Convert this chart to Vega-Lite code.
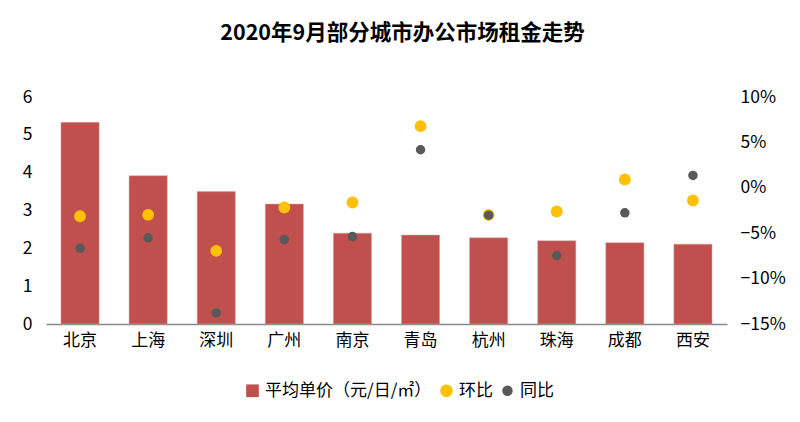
{
  "$schema": "https://vega.github.io/schema/vega-lite/v6.json",
  "autosize": "none",
  "width": 681,
  "height": 227,
  "padding": {"left": 46, "top": 97, "right": 73, "bottom": 98},
  "background": "white",
  "config": {
    "font": "Noto Sans CJK SC",
    "view": {"stroke": null},
    "legend": {
      "title": null,
      "orient": "none",
      "legendX": 198,
      "legendY": 285,
      "direction": "horizontal",
      "labelFontSize": 17,
      "labelColor": "#000000",
      "labelLimit": 300,
      "columnPadding": 6,
      "symbolOpacity": 1,
      "symbolStrokeWidth": 0
    }
  },
  "title": {
    "text": "2020年9月部分城市办公市场租金走势",
    "fontSize": 21.5,
    "fontWeight": "bold",
    "color": "#000000",
    "anchor": "middle",
    "dx": 16,
    "offset": 44
  },
  "data": {
    "values": [
      {"city": "北京", "price": 5.33, "mom": -0.0313, "yoy": -0.0666},
      {"city": "上海", "price": 3.92, "mom": -0.0298, "yoy": -0.0551},
      {"city": "深圳", "price": 3.50, "mom": -0.0695, "yoy": -0.1378},
      {"city": "广州", "price": 3.17, "mom": -0.0217, "yoy": -0.0570},
      {"city": "南京", "price": 2.40, "mom": -0.0162, "yoy": -0.0537},
      {"city": "青岛", "price": 2.35, "mom": 0.0679, "yoy": 0.0419},
      {"city": "杭州", "price": 2.28, "mom": -0.0298, "yoy": -0.0302},
      {"city": "珠海", "price": 2.20, "mom": -0.0261, "yoy": -0.0746},
      {"city": "成都", "price": 2.15, "mom": 0.0092, "yoy": -0.0276},
      {"city": "西安", "price": 2.11, "mom": -0.0140, "yoy": 0.0136}
    ]
  },
  "encoding": {
    "x": {
      "field": "city",
      "type": "nominal",
      "sort": null,
      "scale": {"paddingInner": 0.44, "paddingOuter": 0.22},
      "axis": {
        "title": null,
        "labelAngle": 0,
        "labelFontSize": 17,
        "labelColor": "#000000",
        "labelPadding": 8,
        "ticks": false,
        "domainColor": "#898989",
        "domainWidth": 1.5
      }
    }
  },
  "layer": [
    {
      "mark": {"type": "bar", "stroke": "#d9a09e", "strokeWidth": 0.5},
      "encoding": {
        "y": {
          "field": "price",
          "type": "quantitative",
          "scale": {"domain": [0, 6]},
          "axis": {
            "title": null,
            "orient": "left",
            "values": [0, 1, 2, 3, 4, 5, 6],
            "grid": false,
            "domain": false,
            "ticks": false,
            "labelFontSize": 17.5,
            "labelColor": "#000000",
            "labelPadding": 14
          }
        },
        "color": {
          "datum": "平均单价（元/日/㎡）",
          "type": "nominal",
          "scale": {
            "domain": ["平均单价（元/日/㎡）", "环比", "同比"],
            "range": ["#C0504D", "#FFC000", "#595959"]
          },
          "legend": {
            "title": null,
            "encode": {
              "symbols": {
                "update": {
                  "shape": {"signal": "datum.value === '平均单价（元/日/㎡）' ? 'square' : 'circle'"},
                  "size": {"signal": "datum.value === '同比' ? 110 : 160"},
                  "fillOpacity": {"value": 1},
                  "strokeWidth": {"value": 0}
                }
              }
            }
          }
        }
      }
    },
    {
      "transform": [
        {"fold": ["mom", "yoy"], "as": ["key", "value"]},
        {"calculate": "datum.key === 'mom' ? '环比' : '同比'", "as": "series"}
      ],
      "mark": {"type": "point", "filled": true, "opacity": 1, "shape": "circle"},
      "encoding": {
        "y": {
          "field": "value",
          "type": "quantitative",
          "scale": {"domain": [-0.15, 0.10]},
          "axis": {
            "title": null,
            "orient": "right",
            "values": [-0.15, -0.10, -0.05, 0, 0.05, 0.10],
            "format": ".0%",
            "grid": false,
            "domain": false,
            "ticks": false,
            "labelFontSize": 17.5,
            "labelColor": "#000000",
            "labelPadding": 13
          }
        },
        "color": {
          "field": "series",
          "type": "nominal",
          "legend": {
            "title": null,
            "encode": {
              "symbols": {
                "update": {
                  "shape": {"signal": "datum.value === '平均单价（元/日/㎡）' ? 'square' : 'circle'"},
                  "size": {"signal": "datum.value === '同比' ? 110 : 160"},
                  "fillOpacity": {"value": 1},
                  "strokeWidth": {"value": 0}
                }
              }
            }
          }
        },
        "size": {
          "field": "series",
          "type": "nominal",
          "scale": {"domain": ["环比", "同比"], "range": [140, 90]},
          "legend": null
        },
        "order": {"field": "key", "sort": "ascending"}
      }
    }
  ],
  "resolve": {"scale": {"y": "independent"}}
}
